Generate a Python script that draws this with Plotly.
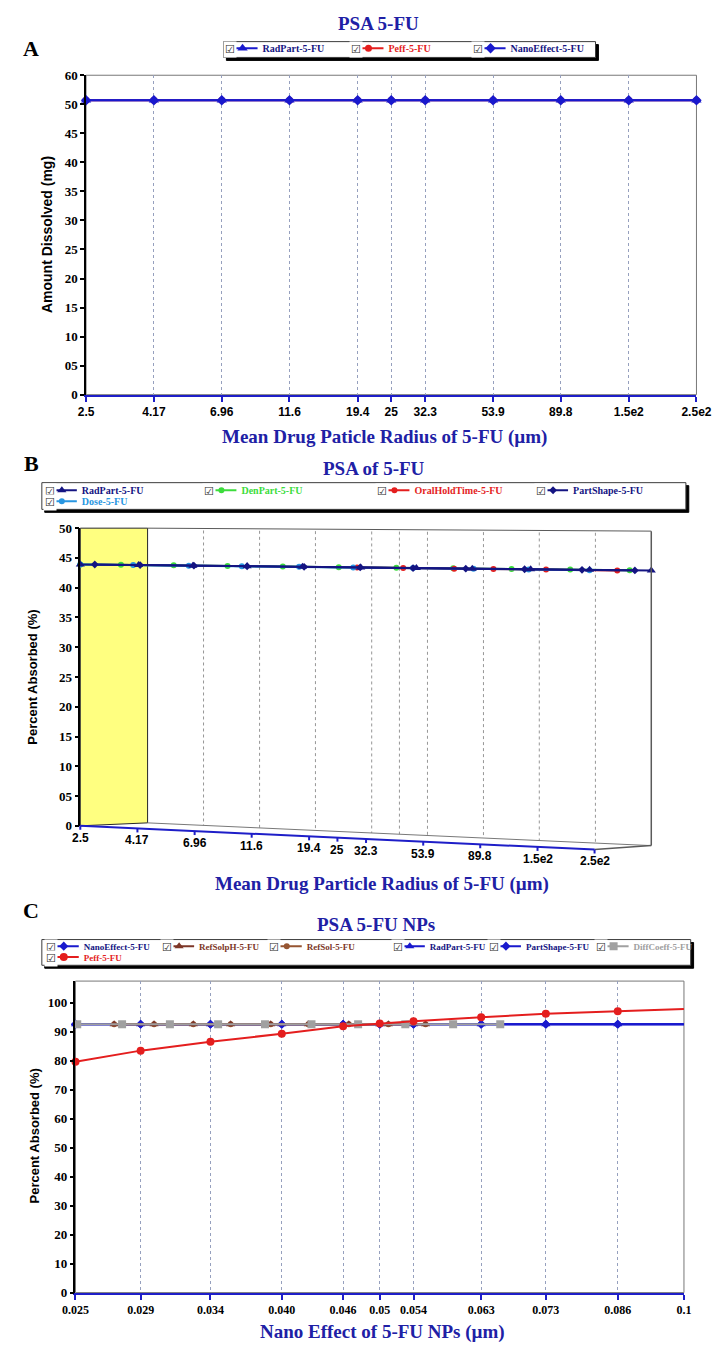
import math
import plotly.graph_objects as go

W, H = 723, 1354
SERIF = "Liberation Serif"
SANS = "Liberation Sans"

TITLE_BLUE = "rgb(32,32,165)"
AXIS_BLUE = "rgb(30,30,200)"
NAVY = "rgb(20,20,130)"
BLUE = "rgb(25,25,205)"
RED = "rgb(228,30,30)"
GREEN = "rgb(60,220,60)"
SKY = "rgb(40,150,225)"
BROWN = "rgb(125,55,40)"
SIENNA = "rgb(150,85,50)"
GRAY = "rgb(160,160,160)"
GRID = "rgb(150,160,190)"


def fx(p):
    return p / W


def fy(p):
    return 1 - p / H


# ---------------- Panel A: amount dissolved vs particle radius ----------------
a_ticks = [2.5, 4.17, 6.96, 11.6, 19.4, 25, 32.3, 53.9, 89.8, 150, 250]
a_tick_text = ["2.5", "4.17", "6.96", "11.6", "19.4", "25", "32.3", "53.9", "89.8", "1.5e2", "2.5e2"]
a_radpart = [50.7, 50.7, 50.7, 50.7, 50.7, 50.7, 50.7, 50.7, 50.7, 50.7, 50.7]
a_peff = [50.7, 50.7, 50.7, 50.7, 50.7, 50.7, 50.7, 50.7, 50.7, 50.7, 50.7]
a_nano = [50.7, 50.7, 50.7, 50.7, 50.7, 50.7, 50.7, 50.7, 50.7, 50.7, 50.7]
a_y_ticks = [0, 5, 10, 15, 20, 25, 30, 35, 40, 45, 50, 55]
a_y_text = ["0", "05", "10", "15", "20", "25", "30", "35", "40", "45", "50", "60"]

# ---------------- Panel B: percent absorbed vs particle radius ----------------
b_ticks = [2.5, 4.17, 6.96, 11.6, 19.4, 25, 32.3, 53.9, 89.8, 150, 250]
b_tick_text = ["2.5", "4.17", "6.96", "11.6", "19.4", "25", "32.3", "53.9", "89.8", "1.5e2", "2.5e2"]
b_y_ticks = [0, 5, 10, 15, 20, 25, 30, 35, 40, 45, 50]
b_y_text = ["0", "05", "10", "15", "20", "25", "30", "35", "40", "45", "50"]

b_radpart_x = [2.5, 4.0, 6.2, 9.6, 15, 24, 37.6, 59, 94.5, 152, 250]
b_radpart_y = [43.9, 43.8, 43.7, 43.6, 43.5, 43.4, 43.3, 43.2, 43.1, 43.0, 42.9]
b_denpart_x = [2.5, 3.47, 5.31, 8.2, 12.8, 20.1, 32, 50.6, 81, 130, 210]
b_denpart_y = [43.9, 43.85, 43.75, 43.65, 43.55, 43.45, 43.35, 43.25, 43.15, 43.05, 42.95]
b_oral_x = [23.3, 33.8, 51, 70, 107, 190]
b_oral_y = [43.4, 43.3, 43.2, 43.15, 43.05, 42.9]
b_shape_x = [2.81, 4.05, 6.25, 9.6, 15.2, 23.9, 36.6, 56, 90, 143, 219]
b_shape_y = [43.9, 43.8, 43.7, 43.6, 43.5, 43.4, 43.3, 43.2, 43.1, 43.0, 42.9]
b_dose_x = [2.5, 3.83, 6.0, 9.2, 14.6, 22.6, 36.6, 59.6, 93, 152]
b_dose_y = [43.9, 43.8, 43.7, 43.6, 43.5, 43.4, 43.3, 43.2, 43.05, 42.95]

# ---------------- Panel C: percent absorbed vs nano effect ----------------
c_ticks = [0.025, 0.029, 0.034, 0.040, 0.046, 0.05, 0.054, 0.063, 0.073, 0.086, 0.1]
c_tick_text = ["0.025", "0.029", "0.034", "0.040", "0.046", "0.05", "0.054", "0.063", "0.073", "0.086", "0.1"]
c_y_ticks = [0, 10, 20, 30, 40, 50, 60, 70, 80, 90, 100]
c_y_text = ["0", "10", "20", "30", "40", "50", "60", "70", "80", "90", "100"]

c_nano_y = [92.6, 92.6, 92.6, 92.6, 92.6, 92.6, 92.6, 92.6, 92.6, 92.6, 92.6]
c_radpart_y = [92.6, 92.6, 92.6, 92.6, 92.6, 92.6, 92.6, 92.6, 92.6, 92.6, 92.6]
c_shape_y = [92.6, 92.6, 92.6, 92.6, 92.6, 92.6, 92.6, 92.6, 92.6, 92.6, 92.6]
c_refsolph_x = [0.0273, 0.0299, 0.0327, 0.0356, 0.039, 0.0425, 0.0466, 0.051, 0.0555]
c_refsolph_y = [92.6, 92.6, 92.6, 92.6, 92.6, 92.6, 92.6, 92.6, 92.6]
c_refsol_x = [0.0273, 0.0299, 0.0327, 0.0356, 0.039, 0.0425, 0.0466, 0.051, 0.0555]
c_refsol_y = [92.6, 92.6, 92.6, 92.6, 92.6, 92.6, 92.6, 92.6, 92.6]
c_diff_x = [0.0251, 0.0278, 0.031, 0.0346, 0.0385, 0.0428, 0.0476, 0.053, 0.0591, 0.0658]
c_diff_y = [92.6, 92.6, 92.6, 92.6, 92.6, 92.6, 92.6, 92.6, 92.6, 92.6]
c_peff_y = [79.7, 83.5, 86.6, 89.3, 91.9, 92.9, 93.6, 95.0, 96.2, 97.1, 97.9]

# each legend entry sits in its own small legend: (checkbox centre x, row centre y, font size)
LEGEND_SLOTS = {
    "legend": (226, 43, 10), "legend2": (357, 43, 10), "legend3": (484, 43, 10),
    "legend4": (38, 490, 10), "legend5": (204, 490, 10), "legend6": (384, 490, 10),
    "legend7": (549, 490, 10), "legend8": (38, 501, 10),
    "legend9": (40, 951, 9), "legend10": (160, 951, 9), "legend11": (272, 951, 9),
    "legend12": (400, 951, 9), "legend13": (500, 951, 9), "legend14": (612, 951, 9),
    "legend15": (40, 962, 9),
}

fig = go.Figure()


def series(x, y, name, color, symbol, size, xa, ya, legend, text_color=None, width=2):
    label = '<span style="color:%s">%s</span>' % (text_color or color, name)
    fig.add_trace(go.Scatter(
        x=x, y=y, name=label, mode="lines+markers",
        line=dict(color=color, width=width),
        marker=dict(symbol=symbol, size=size, color=color),
        xaxis=xa, yaxis=ya, legend=legend,
        cliponaxis=False, hoverinfo="skip",
    ))


# Panel A traces (all three sweeps overlap on one flat line)
series(a_ticks, a_peff, "Peff-5-FU", RED, "circle", 7, "x", "y", "legend2")
series(a_ticks, a_radpart, "RadPart-5-FU", BLUE, "triangle-up", 9, "x", "y", "legend", NAVY)
series(a_ticks, a_nano, "NanoEffect-5-FU", BLUE, "diamond", 8, "x", "y", "legend3", NAVY)

# Panel B traces
series(b_denpart_x, b_denpart_y, "DenPart-5-FU", GREEN, "circle", 6, "x2", "y2", "legend5")
series(b_oral_x, b_oral_y, "OralHoldTime-5-FU", RED, "circle", 6, "x2", "y2", "legend6")
series(b_dose_x, b_dose_y, "Dose-5-FU", SKY, "circle", 6, "x2", "y2", "legend8")
series(b_shape_x, b_shape_y, "PartShape-5-FU", NAVY, "diamond", 6, "x2", "y2", "legend7")
series(b_radpart_x, b_radpart_y, "RadPart-5-FU", NAVY, "triangle-up", 8, "x2", "y2", "legend4")

# Panel C traces
series(c_ticks, c_nano_y, "NanoEffect-5-FU", BLUE, "diamond", 7, "x3", "y3", "legend9", NAVY)
series(c_ticks, c_radpart_y, "RadPart-5-FU", BLUE, "triangle-up", 8, "x3", "y3", "legend12", NAVY)
series(c_ticks, c_shape_y, "PartShape-5-FU", BLUE, "diamond", 7, "x3", "y3", "legend13", NAVY)
series(c_refsol_x, c_refsol_y, "RefSol-5-FU", SIENNA, "circle", 6, "x3", "y3", "legend11", BROWN)
series(c_refsolph_x, c_refsolph_y, "RefSolpH-5-FU", BROWN, "triangle-up", 8, "x3", "y3", "legend10")
series(c_diff_x, c_diff_y, "DiffCoeff-5-FU", GRAY, "square", 8, "x3", "y3", "legend14")
series(c_ticks, c_peff_y, "Peff-5-FU", RED, "circle", 8, "x3", "y3", "legend15")

shapes = []
annotations = []


def rect(x0, y0, x1, y1, fill, line_color, lw=1, layer="above"):
    shapes.append(dict(type="rect", xref="paper", yref="paper",
                       x0=fx(x0), x1=fx(x1), y0=fy(y1), y1=fy(y0),
                       fillcolor=fill, line=dict(color=line_color, width=lw), layer=layer))


def pline(x0, y0, x1, y1, color, lw=1, dash="solid", layer="above"):
    shapes.append(dict(type="line", xref="paper", yref="paper",
                       x0=fx(x0), x1=fx(x1), y0=fy(y0), y1=fy(y1),
                       line=dict(color=color, width=lw, dash=dash), layer=layer))


# legend frames with heavy drop shadow
for (x0, y0, x1, y1) in [(219, 35, 606, 51), (30, 481, 700, 508), (30, 943, 705, 969)]:
    rect(x0 + 3, y0 + 3, x1 + 3, y1 + 3, "black", "black")
    rect(x0, y0, x1, y1, "white", "rgb(60,60,60)")

legend_layout = {}
for key, (cx, cy, fsize) in LEGEND_SLOTS.items():
    legend_layout[key] = dict(
        x=fx(cx - 8), y=fy(cy - 16), xanchor="left", yanchor="top", orientation="h",
        bgcolor="rgba(0,0,0,0)", borderwidth=0,
        font=dict(family=SERIF, size=fsize, weight="bold", color="black"),
        itemwidth=30, itemsizing="trace",
    )
    # checkbox drawn over the start of the legend line
    annotations.append(dict(
        x=fx(cx), y=fy(cy), xref="paper", yref="paper",
        text="\u2611", showarrow=False, xanchor="center", yanchor="middle",
        font=dict(family="DejaVu Sans", size=11, color="rgb(40,40,40)"),
        bgcolor="white", borderpad=1,
    ))

# plot frames for panels A and C
for xr, yr in [("x domain", "y domain"), ("x3 domain", "y3 domain")]:
    shapes.append(dict(type="rect", xref=xr, yref=yr, x0=0, x1=1, y0=0, y1=1,
                       line=dict(color="rgb(120,120,120)", width=1), layer="below"))

# ---- Panel B pseudo-3D box (front edge tilts down towards the right) ----
B_TOP, B_BOT = 527, 828
BACK_L, BACK_R = 140, 664
FRONT_L, FRONT_R = 70, 605


def log_frac(t):
    return math.log10(t / 2.5) / 2


shapes.append(dict(type="path", xref="paper", yref="paper",
                   path="M %f,%f L %f,%f L %f,%f L %f,%f Z" % (
                       fx(70), fy(B_TOP), fx(BACK_L), fy(B_TOP), fx(BACK_L), fy(825),
                       fx(70), fy(B_BOT)),
                   fillcolor="rgb(255,255,128)", line=dict(color="rgb(40,40,40)", width=1), layer="below"))
pline(BACK_L, B_TOP, BACK_R, B_TOP + 3, "rgb(90,90,90)", 1)
pline(BACK_R, B_TOP + 3, BACK_R, 848, "rgb(90,90,90)", 1.5)
pline(BACK_L, 825, BACK_R, 848, "rgb(120,120,120)", 1)
pline(FRONT_R, 852, BACK_R, 848, "rgb(90,90,90)", 1.5)
pline(FRONT_L, B_BOT, FRONT_R, 852, AXIS_BLUE, 2)

for t, lab in zip(b_ticks, b_tick_text):
    f = log_frac(t)
    bx = BACK_L + (BACK_R - BACK_L) * f
    if 0 < f < 1:
        pline(bx, B_TOP + 2 + 3 * f, bx, 825 + 23 * f, "rgb(150,150,150)", 1, "dot", "below")
    px = FRONT_L + (FRONT_R - FRONT_L) * f
    py = B_BOT + 24 * f
    pline(px, py, px, py + 4, AXIS_BLUE, 2)
    annotations.append(dict(x=fx(px), y=fy(py + 12), xref="paper", yref="paper",
                            text=lab, showarrow=False, xanchor="center", yanchor="middle",
                            font=dict(family=SANS, size=12, weight="bold", color="black")))


def text(x, y, s, size, color, family=SERIF, angle=0, weight="bold"):
    annotations.append(dict(x=fx(x), y=fy(y), xref="paper", yref="paper", text=s,
                            showarrow=False, xanchor="center", yanchor="middle", textangle=angle,
                            font=dict(family=family, size=size, color=color, weight=weight)))


text(19, 42, "A", 22, "black")
text(19, 462, "B", 22, "black")
text(19, 914, "C", 22, "black")
text(380, 17, "PSA 5-FU", 19, TITLE_BLUE)
text(376, 467, "PSA of 5-FU", 19, TITLE_BLUE)
text(378, 928, "PSA 5-FU NPs", 19, TITLE_BLUE)
text(386, 435, "Mean Drug Paticle Radius of 5-FU (\u00b5m)", 19, TITLE_BLUE)
text(384, 887, "Mean Drug Particle Radius of 5-FU (\u00b5m)", 19, TITLE_BLUE)
text(384, 1340, "Nano Effect of 5-FU NPs (\u00b5m)", 19, TITLE_BLUE)
text(36, 230, "Amount Dissolved (mg)", 14, "black", SANS, -90)
text(20, 678, "Percent Absorbed (%)", 13, "black", SANS, -90)
text(22, 1142, "Percent Absorbed (%)", 13, "black", SANS, -90)

x_common = dict(type="log", showline=True, linecolor=AXIS_BLUE, linewidth=2,
                ticks="outside", ticklen=5, tickwidth=2, tickcolor=AXIS_BLUE,
                showgrid=True, gridcolor=GRID, griddash="dot", gridwidth=1,
                zeroline=False, tickmode="array")
y_common = dict(showline=True, linecolor="black", linewidth=1.5, ticks="outside",
                ticklen=4, tickwidth=1.5, tickcolor="black", showgrid=False, zeroline=False,
                tickmode="array", tickfont=dict(family=SERIF, size=13, weight="bold", color="black"))

layout = dict(
    width=W, height=H, margin=dict(l=0, r=0, t=0, b=0),
    paper_bgcolor="white", plot_bgcolor="white", showlegend=True,
    xaxis=dict(x_common, domain=[fx(76), fx(711)], anchor="y",
               range=[math.log10(2.5), math.log10(250)], tickvals=a_ticks, ticktext=a_tick_text,
               tickfont=dict(family=SANS, size=12, weight="bold", color="black")),
    yaxis=dict(y_common, domain=[fy(392), fy(69)], anchor="x", range=[0, 55],
               tickvals=a_y_ticks, ticktext=a_y_text),
    xaxis2=dict(domain=[fx(70), fx(BACK_R)], anchor="y2", type="log",
                range=[math.log10(2.5), math.log10(250)], visible=False),
    yaxis2=dict(y_common, domain=[fy(B_BOT), fy(B_TOP)], anchor="x2", range=[0, 50],
                tickvals=b_y_ticks, ticktext=b_y_text),
    xaxis3=dict(x_common, domain=[fx(65), fx(698)], anchor="y3",
                range=[math.log10(0.025), math.log10(0.1)], tickvals=c_ticks, ticktext=c_tick_text,
                tickfont=dict(family=SERIF, size=12, weight="bold", color="black")),
    yaxis3=dict(y_common, domain=[fy(1300), fy(985)], anchor="x3", range=[0, 107.5],
                tickvals=c_y_ticks, ticktext=c_y_text),
    shapes=shapes,
    annotations=annotations,
)
layout.update(legend_layout)

fig.update_layout(**layout)
fig.write_html("out.html")
